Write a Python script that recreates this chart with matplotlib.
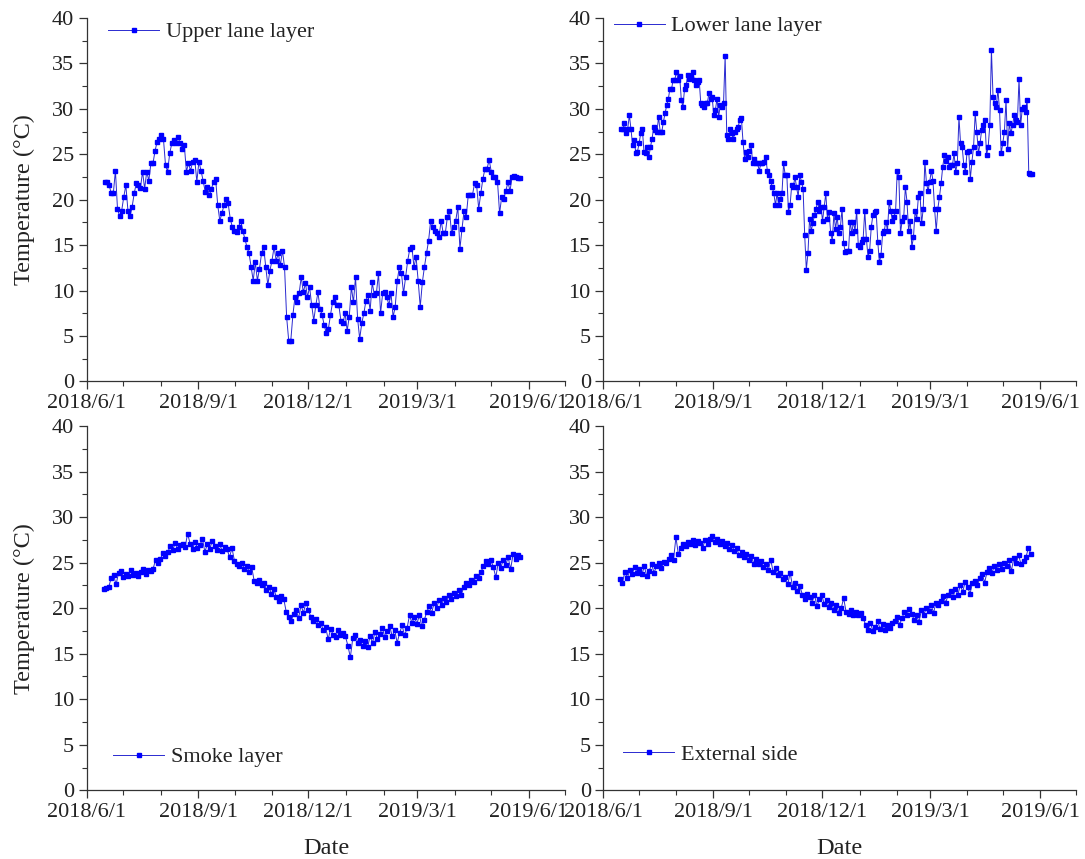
import matplotlib
matplotlib.use("Agg")
import matplotlib.pyplot as plt
import matplotlib.dates as mdates
from matplotlib.ticker import MultipleLocator, FuncFormatter
import pandas as pd

plt.rcParams["font.family"] = ["Liberation Serif", "DejaVu Serif"]

# ---- data (daily temperatures, degC) ----
UPPER_START, UPPER_END = "2018-06-16", "2019-05-25"
upper_lane = [
    22.0, 21.9, 21.6, 20.7, 20.7, 23.2, 19.0, 18.2, 18.8, 20.3, 21.6, 18.8, 18.2, 19.2, 20.7,
    21.8, 21.6, 21.3, 23.1, 21.2, 23.1, 22.1, 24.0, 24.0, 25.4, 26.4, 26.7, 27.1, 26.7, 23.8,
    23.1, 25.1, 26.2, 26.6, 26.2, 26.9, 26.2, 25.6, 26.0, 23.1, 24.0, 23.2, 24.2, 24.4, 22.0,
    24.2, 23.2, 22.1, 20.9, 21.4, 20.5, 21.2, 22.0, 22.3, 19.4, 17.7, 18.5, 19.4, 20.1, 19.6,
    17.9, 17.0, 16.6, 16.5, 17.0, 17.7, 16.6, 15.7, 14.8, 14.1, 12.6, 11.1, 13.1, 11.1, 12.4,
    14.1, 14.8, 12.6, 10.6, 12.2, 13.3, 14.8, 13.3, 14.1, 12.8, 14.4, 12.6, 7.1, 4.5, 4.5,
    7.3, 9.3, 8.7, 9.7, 11.5, 9.8, 10.8, 9.3, 10.4, 8.4, 6.7, 8.4, 9.8, 8.0, 7.3,
    6.2, 5.3, 5.8, 7.3, 8.7, 9.3, 8.4, 8.4, 6.7, 6.4, 7.5, 5.6, 7.1, 10.4, 8.7,
    11.5, 6.9, 4.7, 6.4, 7.5, 8.9, 9.5, 7.8, 10.9, 9.5, 9.7, 11.9, 7.5, 9.7, 9.8,
    9.3, 8.4, 9.7, 7.1, 8.2, 11.1, 12.6, 11.9, 9.7, 11.5, 13.3, 14.6, 14.8, 12.6, 13.7,
    11.1, 8.2, 10.9, 12.6, 14.1, 15.5, 17.7, 17.0, 16.6, 16.3, 15.9, 17.7, 16.3, 16.3, 18.1,
    18.8, 16.3, 17.0, 17.7, 19.2, 14.6, 16.8, 18.8, 18.1, 20.5, 20.5, 20.5, 21.8, 21.6, 19.0,
    20.7, 22.3, 23.4, 23.4, 24.4, 23.1, 22.5, 22.5, 22.0, 18.5, 20.3, 20.1, 21.0, 21.9, 21.0,
    22.5, 22.6, 22.5, 22.4, 22.4,
]

LOWER_START, LOWER_END = "2018-06-16", "2019-05-25"
lower_lane = [
    27.8, 27.8, 28.4, 27.3, 27.8, 29.3, 27.8, 26.0, 26.6, 25.1, 25.3, 26.2, 27.3, 27.8, 25.3,
    25.1, 25.8, 24.7, 25.8, 26.7, 28.0, 27.7, 27.5, 29.1, 27.5, 27.5, 28.6, 29.5, 30.4, 31.1,
    32.2, 32.2, 33.2, 33.2, 34.1, 33.2, 33.6, 31.0, 30.2, 32.2, 32.6, 33.7, 33.3, 33.5, 34.1,
    33.2, 32.6, 33.0, 33.2, 30.6, 30.4, 30.2, 30.6, 30.6, 31.7, 31.1, 31.3, 29.3, 29.9, 31.1,
    29.1, 30.4, 30.2, 30.6, 35.8, 27.1, 26.7, 27.8, 27.3, 26.7, 27.5, 27.8, 28.0, 28.8, 29.0,
    26.4, 24.5, 25.3, 24.7, 25.4, 26.0, 24.0, 24.5, 24.0, 24.0, 23.2, 24.0, 24.0, 24.2, 24.7,
    23.2, 22.7, 22.1, 21.4, 20.7, 19.4, 20.7, 19.4, 20.1, 20.7, 24.0, 22.7, 22.7, 18.7, 19.4,
    21.6, 21.4, 22.5, 21.4, 20.3, 22.7, 22.0, 21.2, 16.1, 12.3, 14.1, 17.9, 16.6, 17.4, 18.3,
    19.0, 19.8, 18.8, 19.2, 17.7, 19.2, 20.7, 17.9, 18.7, 16.3, 15.5, 18.5, 16.8, 18.1, 16.3,
    17.0, 19.0, 15.2, 14.2, 14.4, 14.4, 17.6, 16.3, 17.6, 16.6, 18.8, 15.0, 14.8, 15.4, 15.7,
    18.8, 15.7, 13.7, 14.4, 17.0, 18.3, 18.7, 18.8, 15.4, 13.1, 13.9, 16.3, 16.6, 17.6, 16.6,
    19.8, 18.8, 17.7, 18.1, 18.8, 23.2, 22.5, 16.3, 17.7, 18.1, 21.4, 19.8, 16.6, 17.7, 14.8,
    15.9, 18.8, 17.9, 20.3, 20.7, 17.4, 19.0, 24.2, 21.8, 21.0, 22.0, 23.2, 22.1, 19.0, 16.6,
    19.0, 20.3, 21.8, 23.6, 24.9, 24.3, 24.7, 23.6, 23.8, 23.8, 25.1, 23.1, 24.0, 29.1, 26.2,
    25.8, 23.8, 23.1, 25.3, 25.4, 22.3, 24.2, 25.8, 29.5, 27.5, 25.1, 26.2, 27.7, 28.2, 28.8,
    24.9, 25.8, 28.2, 36.5, 31.3, 30.6, 30.2, 32.1, 29.9, 25.1, 26.2, 27.5, 31.0, 25.6, 28.4,
    27.3, 28.2, 29.3, 28.8, 28.6, 33.3, 28.2, 30.0, 30.2, 29.7, 31.0, 22.9, 22.8, 22.8,
]

SMOKE_START, SMOKE_END = "2018-06-15", "2019-05-25"
smoke_layer = [
    22.1, 22.2, 22.3, 23.3, 23.6, 22.6, 23.9, 24.1,
    23.4, 23.8, 23.5, 24.2, 23.6, 23.9, 23.5, 24.0, 24.3, 23.8, 24.2, 24.1, 24.3, 25.3, 25.0,
    25.4, 26.1, 25.7, 26.2, 26.8, 26.4, 27.2, 26.5, 26.9, 27.0, 26.7, 28.2, 27.1, 26.5, 27.3,
    26.6, 26.9, 27.6, 26.2, 27.0, 26.5, 27.4, 26.8, 26.4, 27.0, 26.3, 26.7, 26.5, 25.6, 26.6,
    25.2, 24.8, 24.6, 25.0, 24.3, 24.6, 24.0, 24.5, 23.0, 22.8, 23.1, 22.5, 22.8, 22.0, 22.3,
    21.6, 22.1, 21.2, 20.8, 21.3, 21.0, 19.6, 19.0, 18.6, 19.4, 19.8, 18.9, 20.3, 19.5, 20.6,
    19.8, 19.0, 18.6, 18.8, 18.1, 18.4, 17.6, 17.9, 16.6, 17.7, 17.1, 16.8, 17.6, 17.0, 17.3,
    16.9, 15.9, 14.6, 16.7, 17.1, 16.2, 16.5, 15.8, 16.4, 15.7, 16.9, 16.2, 17.4, 16.6, 17.2,
    17.8, 16.8, 17.5, 18.0, 16.9, 17.6, 16.2, 17.3, 18.1, 17.0, 17.8, 19.2, 18.4, 19.0,
    18.3, 19.2, 18.0, 18.7, 19.6, 20.2, 19.5, 20.6, 20.0, 20.9, 20.4, 21.1, 20.7, 21.5, 21.0,
    21.7, 21.3, 22.0, 21.5, 22.3, 22.8, 22.5, 23.1, 22.9, 23.5, 23.3, 24.0, 24.6, 25.2, 24.8,
    25.3, 24.5, 23.4, 25.0, 24.4, 25.3, 24.7, 25.6, 24.3, 25.9, 25.4, 25.8, 25.6,
]

EXTERNAL_START, EXTERNAL_END = "2018-06-15", "2019-05-24"
external_side = [
    23.2, 22.8, 24.0, 23.3, 24.2, 23.8, 24.5, 23.9,
    24.3, 23.7, 24.6, 23.5, 24.1, 24.8, 23.9, 24.6, 25.0, 24.4, 25.1, 25.0, 25.4, 25.8, 25.3,
    27.8, 25.9, 26.6, 27.1, 26.8, 27.3, 27.0, 27.5, 26.9, 27.4, 27.2, 26.6, 27.5, 27.1, 27.6,
    27.9, 27.3, 27.6, 27.0, 27.4, 26.8, 27.2, 26.5, 26.9, 26.3, 26.6, 25.8, 26.2, 25.6, 25.9,
    25.3, 25.7, 24.9, 25.4, 24.8, 25.2, 24.5, 24.9, 24.2, 25.3, 24.0, 24.4, 23.6, 23.9, 23.2,
    23.4, 22.6, 23.9, 22.3, 22.8, 21.9, 22.4, 21.5, 21.0, 21.6, 21.2, 20.6, 21.5, 20.2, 21.0,
    21.4, 20.5, 20.9, 20.1, 20.6, 19.8, 20.4, 19.5, 20.0, 21.1, 19.6, 19.4, 19.8, 19.3, 19.6,
    19.2, 19.5, 18.9, 18.2, 17.6, 18.4, 17.5, 17.9, 18.6, 17.7, 18.3, 17.6, 18.1, 17.8, 18.4,
    18.6, 19.0, 18.2, 18.9, 19.6, 19.3, 19.9, 19.4, 18.7, 19.2, 18.5, 19.8, 19.3, 20.0,
    19.7, 20.3, 19.5, 20.6, 20.4, 20.8, 21.3, 20.6, 21.5, 21.9, 21.2, 22.1, 21.5, 22.5, 21.8,
    22.9, 22.3, 21.6, 22.8, 23.0, 22.5, 23.3, 23.8, 22.8, 24.0, 24.4, 23.9, 24.6, 24.2, 24.8,
    24.3, 25.0, 24.6, 25.3, 24.1, 25.5, 25.0, 25.8, 24.8, 25.2, 25.6, 26.6, 26.0,
]

PANELS = [
    ("Upper lane layer", UPPER_START, UPPER_END, upper_lane),
    ("Lower lane layer", LOWER_START, LOWER_END, lower_lane),
    ("Smoke layer", SMOKE_START, SMOKE_END, smoke_layer),
    ("External side", EXTERNAL_START, EXTERNAL_END, external_side),
]

# axes boxes in figure fractions: left, bottom, width, height
BOXES = [
    (0.080, 0.556, 0.441, 0.423),
    (0.556, 0.556, 0.436, 0.423),
    (0.080, 0.080, 0.441, 0.424),
    (0.556, 0.080, 0.436, 0.424),
]
LEGEND_POS = [(0.045, 0.961), (0.022, 0.978), (0.055, 0.091), (0.042, 0.099)]

BLUE = "#0000ff"


def _date_fmt(x, pos=None):
    d = mdates.num2date(x)
    return f"{d.year}/{d.month}/{d.day}"


fig = plt.figure(figsize=(10.85, 8.59), dpi=100, facecolor="white")

for i, (name, start, end, values) in enumerate(PANELS):
    ax = fig.add_axes(BOXES[i])
    dates = pd.date_range(start, end, periods=len(values))
    ax.plot(dates, values, color="#2a2ad0", lw=0.7, marker="s", markersize=3.4,
            markerfacecolor=BLUE, markeredgecolor=BLUE, label=name)

    ax.set_xlim(pd.Timestamp("2018-06-01"), pd.Timestamp("2019-07-01"))
    ax.set_ylim(0, 40)
    ax.xaxis.set_major_locator(mdates.MonthLocator(bymonth=[3, 6, 9, 12]))
    ax.xaxis.set_minor_locator(mdates.MonthLocator())
    ax.xaxis.set_major_formatter(FuncFormatter(_date_fmt))
    ax.yaxis.set_major_locator(MultipleLocator(5))
    ax.yaxis.set_minor_locator(MultipleLocator(2.5))

    for side in ("top", "right"):
        ax.spines[side].set_visible(False)
    for side in ("left", "bottom"):
        ax.spines[side].set_color("#333333")
        ax.spines[side].set_linewidth(0.9)
    ax.tick_params(which="major", direction="out", length=6, width=0.9,
                   labelsize=16, colors="#333333", labelcolor="#222222", pad=3)
    ax.tick_params(which="minor", direction="out", length=3.5, width=0.8, colors="#333333")

    if i % 2 == 0:
        ax.set_ylabel("Temperature (\u00b0C)", fontsize=17.5, color="#222222", labelpad=12)
    if i >= 2:
        ax.set_xlabel("Date", fontsize=17.5, color="#222222", labelpad=12)

    leg = ax.legend(loc="center left", bbox_to_anchor=LEGEND_POS[i], frameon=False,
                    fontsize=16, handlelength=2.3, handletextpad=0.3,
                    borderaxespad=0, borderpad=0)
    for t in leg.get_texts():
        t.set_color("#222222")

fig.savefig("out.png", dpi=100, facecolor="white")
